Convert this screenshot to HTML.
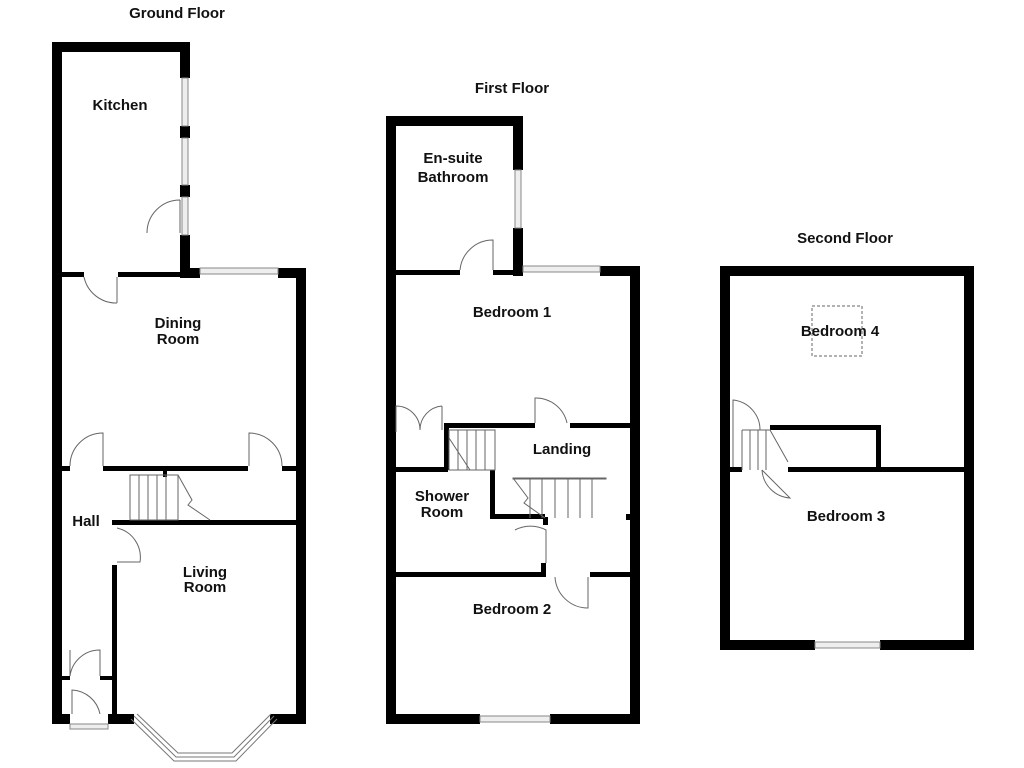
<!DOCTYPE html>
<html><head><style>body{margin:0;background:#fff}svg{display:block}text{font-family:"Liberation Sans",Arial,sans-serif;font-weight:bold;font-size:15px;fill:#111;text-anchor:middle}</style></head><body>
<svg width="1024" height="768" viewBox="0 0 1024 768">
<g fill="#000">
<rect x="52" y="42" width="10" height="682"/>
<rect x="52" y="42" width="138" height="10"/>
<rect x="180" y="42" width="10" height="36"/>
<rect x="180" y="126" width="10" height="12"/>
<rect x="180" y="185" width="10" height="12"/>
<rect x="180" y="235" width="10" height="43"/>
<rect x="180" y="268" width="20" height="10"/>
<rect x="278" y="268" width="28" height="10"/>
<rect x="296" y="268" width="10" height="456"/>
<rect x="62" y="272" width="22" height="5"/>
<rect x="118" y="272" width="62" height="5"/>
<rect x="62" y="466" width="8" height="5"/>
<rect x="103" y="466" width="145" height="5"/>
<rect x="282" y="466" width="14" height="5"/>
<rect x="163" y="471" width="4" height="6"/>
<rect x="112" y="520" width="184" height="5"/>
<rect x="112" y="565" width="5" height="159"/>
<rect x="62" y="676" width="8" height="4"/>
<rect x="100" y="676" width="12" height="4"/>
<rect x="52" y="714" width="18" height="10"/>
<rect x="108" y="714" width="26" height="10"/>
<rect x="270" y="714" width="36" height="10"/>
<rect x="386" y="116" width="10" height="608"/>
<rect x="386" y="116" width="137" height="10"/>
<rect x="513" y="116" width="10" height="54"/>
<rect x="513" y="228" width="10" height="48"/>
<rect x="600" y="266" width="40" height="10"/>
<rect x="630" y="266" width="10" height="458"/>
<rect x="396" y="270" width="64" height="5"/>
<rect x="493" y="270" width="30" height="5"/>
<rect x="445" y="423" width="90" height="5"/>
<rect x="570" y="423" width="60" height="5"/>
<rect x="444" y="423" width="5" height="47"/>
<rect x="396" y="467" width="52" height="5"/>
<rect x="490" y="470" width="5" height="48"/>
<rect x="490" y="514" width="55" height="5"/>
<rect x="543" y="517" width="5" height="8"/>
<rect x="626" y="514" width="4" height="6"/>
<rect x="396" y="572" width="150" height="5"/>
<rect x="541" y="563" width="5" height="10"/>
<rect x="590" y="572" width="40" height="5"/>
<rect x="386" y="714" width="94" height="10"/>
<rect x="550" y="714" width="90" height="10"/>
<rect x="720" y="266" width="254" height="10"/>
<rect x="720" y="266" width="10" height="384"/>
<rect x="964" y="266" width="10" height="384"/>
<rect x="720" y="640" width="95" height="10"/>
<rect x="880" y="640" width="94" height="10"/>
<rect x="730" y="467" width="12" height="5"/>
<rect x="788" y="467" width="176" height="5"/>
<rect x="770" y="425" width="110" height="5"/>
<rect x="876" y="425" width="5" height="45"/>
</g>
<g fill="#eee" stroke="#888" stroke-width="1">
<rect x="182" y="78" width="6" height="48"/><rect x="182" y="138" width="6" height="47"/>
<rect x="182" y="197" width="6" height="38"/>
<rect x="200" y="268" width="78" height="6"/>
<rect x="515" y="170" width="6" height="58"/>
<rect x="523" y="266" width="77" height="6"/>
<rect x="480" y="716" width="70" height="6"/>
<rect x="815" y="642" width="65" height="6"/>
<rect x="70" y="724" width="38" height="5"/>
</g>
<g fill="none" stroke="#777" stroke-width="1">
<polyline points="134,716 176,757 234,757 274,716"/>
<polyline points="137,714 178,753 232,753 271,714"/>
<polyline points="131,719 174,761 236,761 277,719"/>
</g>
<g fill="none" stroke="#666" stroke-width="1">
<path d="M180,200 L180,233 M180,200 A33,33 0 0 0 147,233"/>
<path d="M117,277 L117,303 M84,277 A33,33 0 0 0 117,303"/>
<path d="M70,466 A33,33 0 0 1 103,433 L103,466"/>
<path d="M282,466 A33,33 0 0 0 249,433 L249,466"/>
<path d="M117,528 A30,30 0 0 1 140,562 L117,562"/>
<path d="M70,676 A30,30 0 0 1 100,650 L100,676 M70,650 L70,676"/>
<path d="M72,714 L72,690 A30,30 0 0 1 100,714"/>
<path d="M460,270 A33,33 0 0 1 493,240 L493,270"/>
<path d="M535,423 L535,398 A32,32 0 0 1 567,423"/>
<path d="M396,432 L396,406 A24,24 0 0 1 420,430 M442,406 L442,430 M442,406 A24,24 0 0 0 420,430"/>
<path d="M546,563 L546,530 A33,33 0 0 0 515,530"/>
<path d="M555,577 A33,33 0 0 0 588,608 L588,577"/>
<path d="M733,467 L733,400 A30,30 0 0 1 760,430"/>
<path d="M762,470 A30,30 0 0 0 790,498 L762,470"/>
<rect x="812" y="306" width="50" height="50" stroke-dasharray="3,2"/>
</g>
<g fill="none" stroke="#666" stroke-width="1">
<rect x="130" y="475" width="48" height="45"/>
<path d="M139,475V520M148,475V520M157,475V520M166,475V520M178,475 L192,500 L188,505 L210,520"/>
<rect x="449" y="430" width="46" height="40"/>
<path d="M458,430V470M467,430V470M476,430V470M485,430V470M449,438 L470,470"/>
<rect x="513" y="478" width="93" height="1"/>
<path d="M530,478V518M542,478V518M555,478V518M568,478V518M580,478V518M592,478V518M513,478 L528,498 L524,503 L545,518"/>
<path d="M742,430V470M750,430V470M758,430V470M766,430V470M742,430 H770 L788,462"/>
</g>
<text x="177" y="18">Ground Floor</text>
<text x="512" y="93">First Floor</text>
<text x="845" y="243">Second Floor</text>
<text x="120" y="110">Kitchen</text>
<text x="178" y="328">Dining</text><text x="178" y="344">Room</text>
<text x="86" y="526">Hall</text>
<text x="205" y="577">Living</text><text x="205" y="592">Room</text>
<text x="453" y="163">En-suite</text><text x="453" y="182">Bathroom</text>
<text x="512" y="317">Bedroom 1</text>
<text x="562" y="454">Landing</text>
<text x="442" y="501">Shower</text><text x="442" y="517">Room</text>
<text x="512" y="614">Bedroom 2</text>
<text x="840" y="336">Bedroom 4</text>
<text x="846" y="521">Bedroom 3</text>
</svg>
</body></html>
